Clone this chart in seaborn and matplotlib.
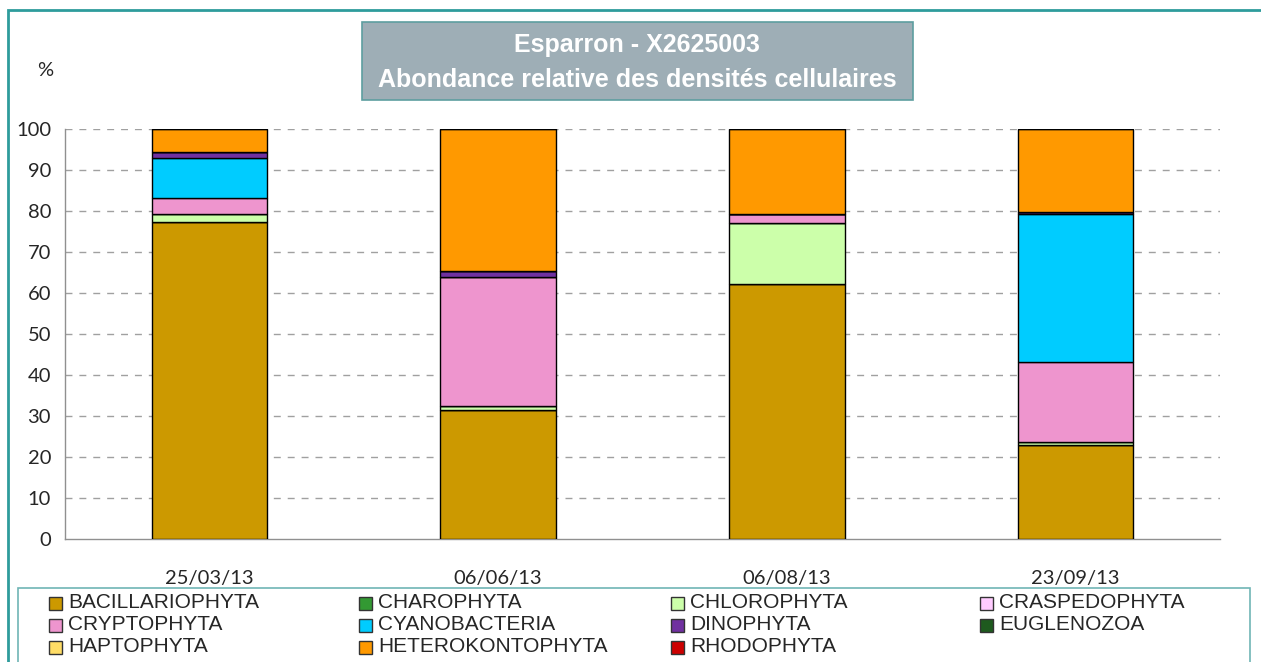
import numpy as np
import pandas as pd
import matplotlib.pyplot as plt
import matplotlib.patches as mpatches
import seaborn as sns

sns.set_style('white')
plt.rcParams['font.family'] = ['Liberation Sans', 'DejaVu Sans']

# Data (relative abundance, %)
dates = ['25/03/13', '06/06/13', '06/08/13', '23/09/13']
groups = ['BACILLARIOPHYTA', 'CHAROPHYTA', 'CHLOROPHYTA', 'CRASPEDOPHYTA',
          'CRYPTOPHYTA', 'CYANOBACTERIA', 'DINOPHYTA', 'EUGLENOZOA',
          'HAPTOPHYTA', 'HETEROKONTOPHYTA', 'RHODOPHYTA']
bacillariophyta = [77.4, 31.5, 62.3, 22.9]
charophyta = [0, 0, 0, 0]
chlorophyta = [1.8, 0.9, 14.7, 0.8]
craspedophyta = [0, 0, 0, 0]
cryptophyta = [3.9, 31.6, 2.2, 19.5]
cyanobacteria = [9.9, 0, 0, 36.0]
dinophyta = [1.3, 1.4, 0, 0.5]
euglenozoa = [0, 0, 0, 0]
haptophyta = [0, 0, 0, 0]
heterokontophyta = [5.7, 34.6, 20.8, 20.3]
rhodophyta = [0, 0, 0, 0]
colors = ['#CC9900', '#339933', '#CCFFAA', '#FFCCFF', '#EE95CE', '#00CCFF',
          '#7030A0', '#1E5A1E', '#FFDD66', '#FF9900', '#CC0000']

series = [bacillariophyta, charophyta, chlorophyta, craspedophyta, cryptophyta,
          cyanobacteria, dinophyta, euglenozoa, haptophyta, heterokontophyta,
          rhodophyta]

fig = plt.figure(figsize=(12.61, 6.62), dpi=100)
ax = fig.add_axes([65 / 1261, 123 / 662, 1155 / 1261, 410 / 662])

# stacked bars
bottom = np.zeros(len(dates))
for name, vals, c in zip(groups, series, colors):
    vals = np.array(vals, dtype=float)
    sns.barplot(x=dates, y=vals, bottom=bottom, color=c, saturation=1,
                width=0.4, edgecolor='black', linewidth=1, ax=ax, zorder=3)
    bottom = bottom + vals

ax.set_xlim(-0.5, 3.5)
ax.set_ylim(0, 100)
ax.set_yticks(range(0, 101, 10))
for y in range(10, 101, 10):
    ax.axhline(y, color='#A0A0A0', lw=1, ls=(0, (5, 5)), zorder=1)

for s in ['top', 'right']:
    ax.spines[s].set_visible(False)
for s in ['left', 'bottom']:
    ax.spines[s].set_color('#909090')
    ax.spines[s].set_linewidth(1)

ax.set_xticks(range(len(dates)))
ax.set_xticklabels(dates, family=['Lato', 'DejaVu Sans'], fontsize=14.5)
ax.set_xticks(np.arange(-0.5, 4, 1), minor=True)
ax.tick_params(axis='x', which='major', length=0, pad=22)
ax.tick_params(axis='x', which='minor', length=6, color='#909090', direction='out')
ax.tick_params(axis='y', length=6, color='#909090', direction='out', pad=4)
for t in ax.get_yticklabels():
    t.set_family(['Lato', 'DejaVu Sans'])
    t.set_fontsize(14.5)
ax.set_xlabel('')
ax.set_ylabel('')

W, H = 1261, 662
def fx(px):
    return px / W
def fy(py):
    return 1 - py / H

# outer frame
fig.patches.append(mpatches.Rectangle((fx(8), fy(700)), fx(1300), 690 / H,
                   transform=fig.transFigure, fill=False, ec='#2E9C9C', lw=2))

# title box
fig.patches.append(mpatches.Rectangle((fx(362), fy(100)), fx(551), 78 / H,
                   transform=fig.transFigure, fc='#9EAEB6', ec='#5E9EA0', lw=1.2))
fig.text(fx(637), fy(45), 'Esparron - X2625003', color='white', fontsize=18,
         fontweight='bold', ha='center', va='center')
fig.text(fx(637), fy(80), 'Abondance relative des densités cellulaires', color='white',
         fontsize=18, fontweight='bold', ha='center', va='center')

fig.text(fx(45), fy(70), '%', fontsize=14.5, ha='center', va='center',
         family=['Lato', 'DejaVu Sans'])

# legend box
fig.patches.append(mpatches.Rectangle((fx(18), fy(700)), fx(1232), 112 / H,
                   transform=fig.transFigure, fill=False, ec='#6FB5B5', lw=1.2))
col_x = [49, 359, 671, 980]
row_y = [603, 625, 647]
for i, (name, c) in enumerate(zip(groups, colors)):
    r, k = divmod(i, 4)
    x0, y0 = col_x[k], row_y[r]
    fig.patches.append(mpatches.Rectangle((fx(x0), fy(y0 + 7)), fx(13), 13 / H,
                       transform=fig.transFigure, fc=c, ec='#333333', lw=1))
    fig.text(fx(x0 + 19), fy(y0), name, fontsize=15, ha='left', va='center')

fig.savefig('out.png', dpi=100)
